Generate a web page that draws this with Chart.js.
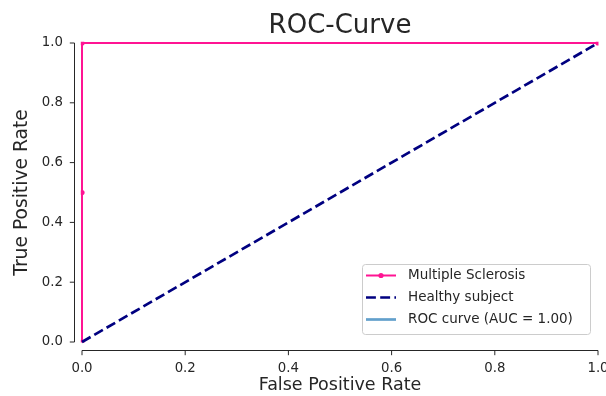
<!DOCTYPE html>
<html>
<head>
<meta charset="utf-8">
<script src="https://cdn.jsdelivr.net/npm/chart.js@4.4.1/dist/chart.umd.min.js"></script>
<style>
  html, body { margin: 0; padding: 0; background: #fff; }
  #wrap { width: 606px; height: 396px; }
</style>
</head>
<body>
<div id="wrap"><canvas id="roc" width="606" height="396"></canvas></div>
<script>
  // values
  var msFpr = [0, 0, 0, 1];
  var msTpr = [0, 0.5, 1, 1];
  var chanceFpr = [0, 1];
  var chanceTpr = [0, 1];
  var rocFpr = [];
  var rocTpr = [];
  var xTicks = [0, 0.2, 0.4, 0.6, 0.8, 1.0];
  var yTicks = [0, 0.2, 0.4, 0.6, 0.8, 1.0];
  var seriesLabels = ["Multiple Sclerosis", "Healthy subject", "ROC curve (AUC = 1.00)"];

  function pts(xs, ys) {
    return xs.map(function (x, i) { return { x: x, y: ys[i] }; });
  }

  var ink = "#262626";
  var fam = '"DejaVu Sans", sans-serif';
  Chart.defaults.font.family = fam;
  Chart.defaults.color = ink;

  // seaborn-style offset spines with outward ticks
  var spines = {
    id: "spines",
    afterDraw: function (c) {
      var ctx = c.ctx, x = c.scales.x, y = c.scales.y;
      var lx = Math.round(c.chartArea.left - 8) + 0.5;
      var by = Math.round(c.chartArea.bottom + 8) + 0.5;
      ctx.save();
      ctx.strokeStyle = ink;
      ctx.lineWidth = 1;
      ctx.beginPath();
      ctx.moveTo(lx, y.getPixelForValue(yTicks[0]));
      ctx.lineTo(lx, y.getPixelForValue(yTicks[yTicks.length - 1]));
      yTicks.forEach(function (v) {
        var p = y.getPixelForValue(v);
        ctx.moveTo(lx, p);
        ctx.lineTo(lx - 4.7, p);
      });
      ctx.moveTo(x.getPixelForValue(xTicks[0]), by);
      ctx.lineTo(x.getPixelForValue(xTicks[xTicks.length - 1]), by);
      xTicks.forEach(function (v) {
        var p = x.getPixelForValue(v);
        ctx.moveTo(p, by);
        ctx.lineTo(p, by + 4.7);
      });
      ctx.stroke();
      ctx.restore();
    }
  };

  // legend inside the lower right corner, like matplotlib's
  var innerLegend = {
    id: "innerLegend",
    afterDraw: function (c) {
      var ctx = c.ctx, a = c.chartArea;
      var w = 228, h = 70, rowH = 22;
      var bx = a.right - 8 - w, by = a.bottom - 8 - h;
      ctx.save();
      ctx.beginPath();
      ctx.roundRect(bx + 0.5, by + 0.5, w, h, 3);
      ctx.fillStyle = "rgba(255,255,255,0.8)";
      ctx.fill();
      ctx.strokeStyle = "#cccccc";
      ctx.lineWidth = 1;
      ctx.stroke();
      ctx.font = "13.5px " + fam;
      ctx.textBaseline = "middle";
      ctx.textAlign = "left";
      c.data.datasets.forEach(function (ds, i) {
        var cy = by + 11.5 + i * rowH, hx = bx + 4;
        ctx.strokeStyle = ds.borderColor;
        ctx.lineWidth = ds.borderWidth;
        ctx.setLineDash(ds.borderDash || []);
        ctx.beginPath();
        ctx.moveTo(hx, cy);
        ctx.lineTo(hx + 30, cy);
        ctx.stroke();
        ctx.setLineDash([]);
        if (ds.pointRadius) {
          ctx.fillStyle = ds.pointBackgroundColor;
          ctx.beginPath();
          ctx.arc(hx + 15, cy, ds.pointRadius, 0, Math.PI * 2);
          ctx.fill();
        }
        ctx.fillStyle = ink;
        ctx.fillText(ds.label, bx + 46, cy);
      });
      ctx.restore();
    }
  };

  function fixedTicks(list) {
    return function (scale) {
      scale.ticks = list.map(function (v) { return { value: v }; });
    };
  }

  new Chart(document.getElementById("roc"), {
    type: "scatter",
    data: {
      datasets: [
        {
          label: seriesLabels[0],
          data: pts(msFpr, msTpr),
          showLine: true,
          borderColor: "#ff1493",
          borderWidth: 2,
          pointRadius: 2.6,
          pointBackgroundColor: "#ff1493",
          pointBorderWidth: 0,
          clip: { left: 1.2, top: 1.2, right: 0.5, bottom: 0.5 },
          order: 2
        },
        {
          label: seriesLabels[1],
          data: pts(chanceFpr, chanceTpr),
          showLine: true,
          borderColor: "#000080",
          borderWidth: 2.7,
          borderDash: [9.9, 4.3],
          pointRadius: 0,
          clip: false,
          order: 1
        },
        {
          label: seriesLabels[2],
          data: pts(rocFpr, rocTpr),
          showLine: true,
          borderColor: "#62a0cc",
          borderWidth: 2.7,
          pointRadius: 0,
          order: 0
        }
      ]
    },
    options: {
      responsive: false,
      animation: false,
      devicePixelRatio: 1,
      layout: { padding: { left: 0, right: 8, top: 0, bottom: 0 } },
      plugins: {
        legend: { display: false },
        tooltip: { enabled: false },
        title: {
          display: true,
          text: "ROC-Curve",
          fullSize: false,
          color: ink,
          font: { size: 26, weight: "normal", lineHeight: 1.2 },
          padding: { top: 11, bottom: 0.8 }
        }
      },
      scales: {
        x: {
          type: "linear",
          min: 0,
          max: 1,
          afterBuildTicks: fixedTicks(xTicks),
          afterFit: function (s) { s.height = 54; s.paddingLeft = 0; s.paddingRight = 0; },
          grid: { display: false, drawTicks: false },
          border: { display: false },
          ticks: {
            padding: 19,
            color: ink,
            font: { size: 13.3 },
            maxRotation: 0,
            callback: function (v) { return Number(v).toFixed(1); }
          },
          title: {
            display: true,
            text: "False Positive Rate",
            color: ink,
            font: { size: 17.5 },
            padding: { top: 0, bottom: 0.5 }
          }
        },
        y: {
          type: "linear",
          min: 0,
          max: 1,
          afterBuildTicks: fixedTicks(yTicks),
          afterFit: function (s) { s.width = 82; s.paddingTop = 0; s.paddingBottom = 0; },
          grid: { display: false, drawTicks: false },
          border: { display: false },
          ticks: {
            padding: 19,
            color: ink,
            font: { size: 13.3 },
            callback: function (v) { return Number(v).toFixed(1); }
          },
          title: {
            display: true,
            text: "True Positive Rate",
            color: ink,
            font: { size: 18.7 },
            padding: { top: 10.8, bottom: 0 }
          }
        }
      }
    },
    plugins: [spines, innerLegend]
  });
</script>
</body>
</html>
